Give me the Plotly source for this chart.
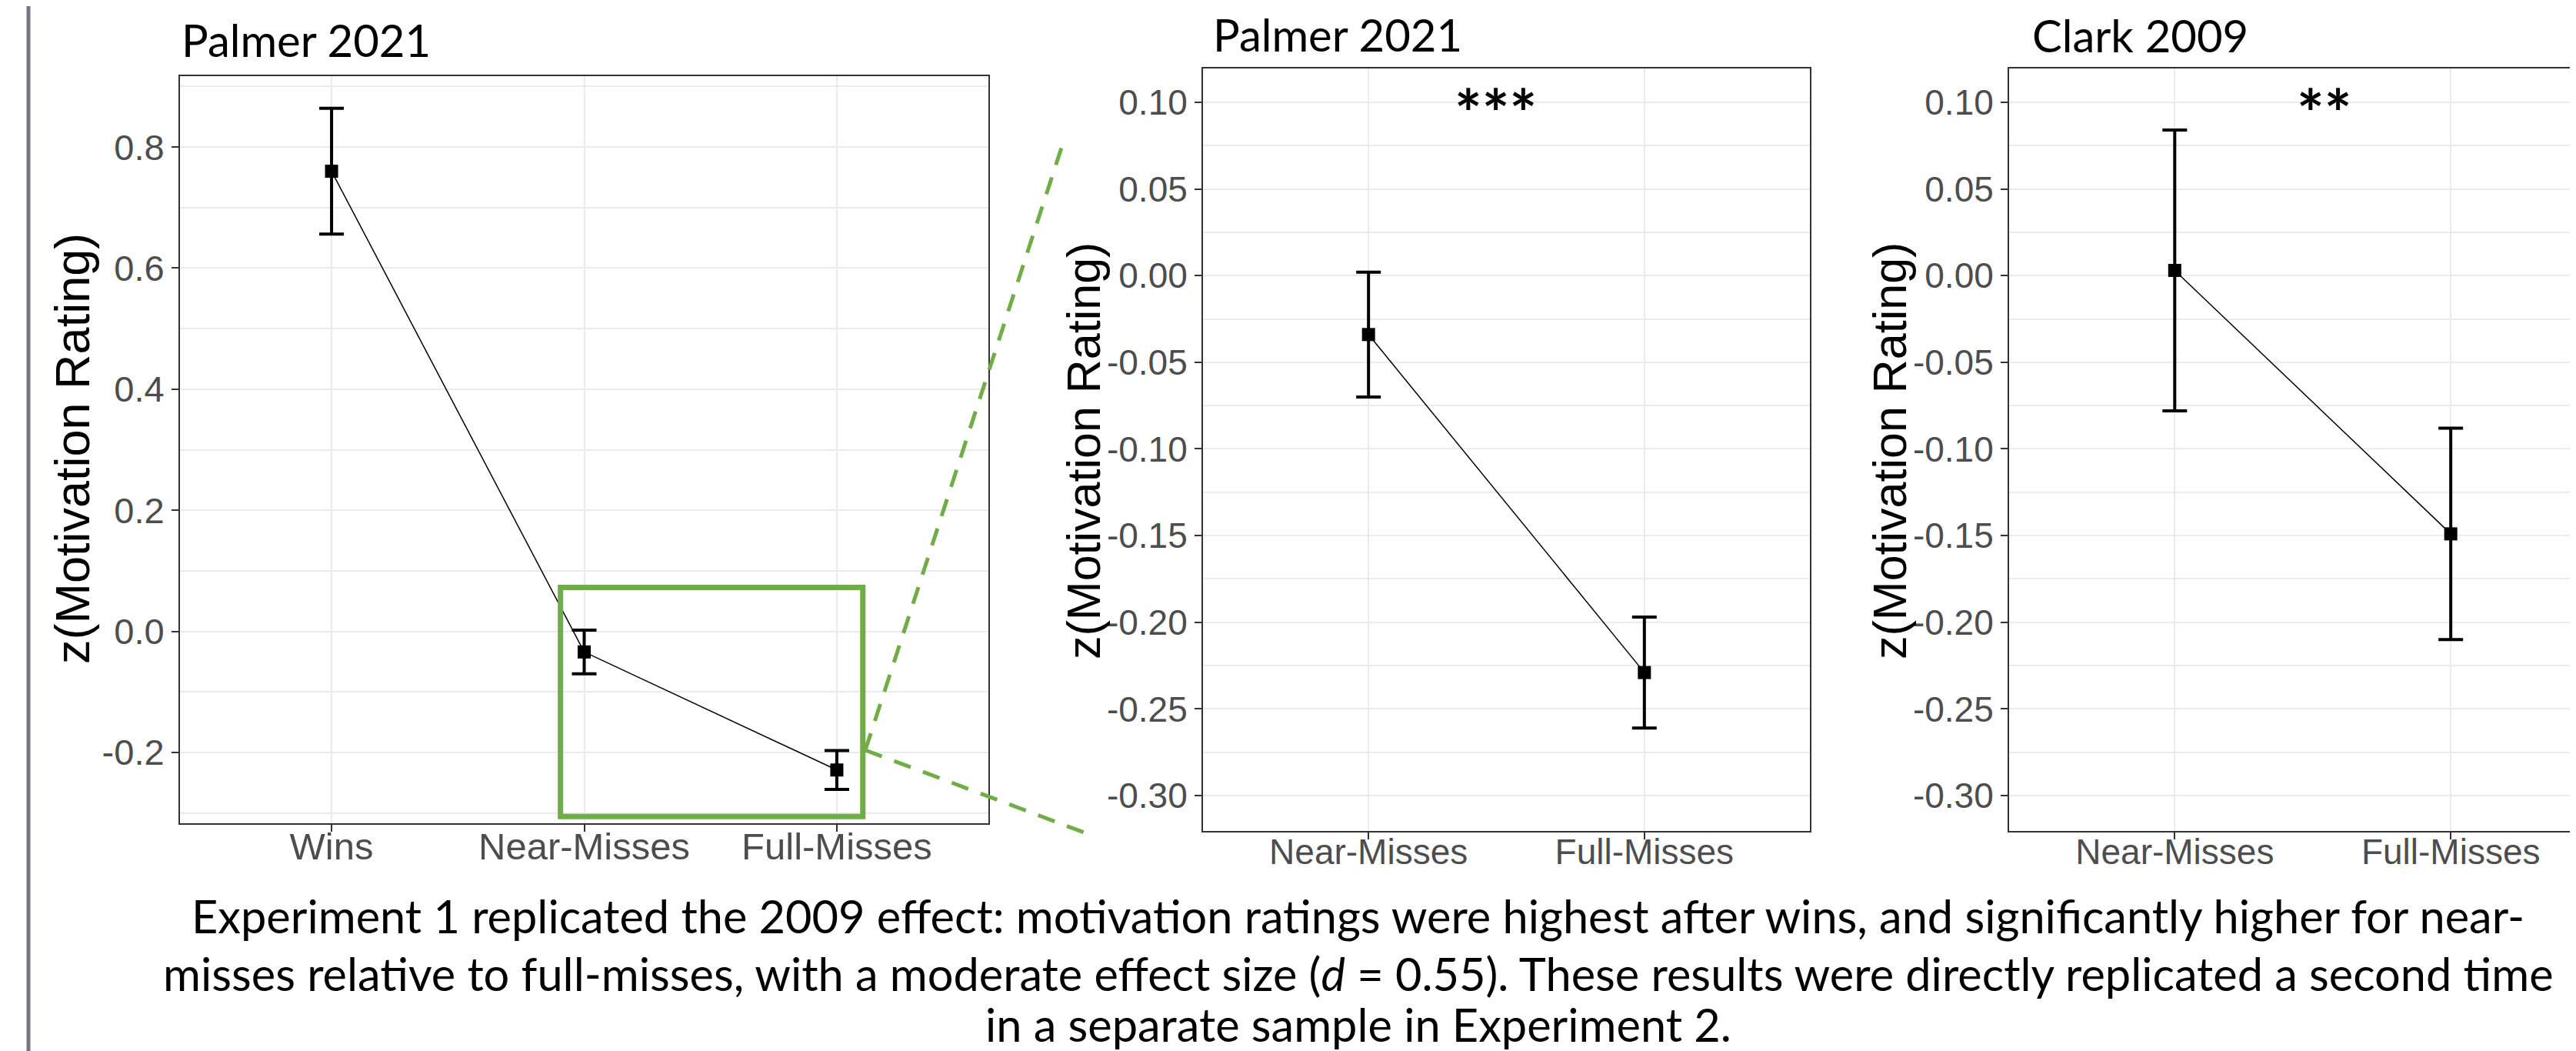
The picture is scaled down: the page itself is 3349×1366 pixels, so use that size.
import plotly.graph_objects as go

# ---------------- data ----------------
cats_p1 = ["Wins", "Near-Misses", "Full-Misses"]
means_p1 = [0.760, -0.034, -0.229]
se_p1 = [0.104, 0.036, 0.032]

cats_p2 = ["Near-Misses", "Full-Misses"]
means_p2 = [-0.034, -0.229]
se_p2 = [0.036, 0.032]

cats_p3 = ["Near-Misses", "Full-Misses"]
means_p3 = [0.003, -0.149]
se_p3 = [0.081, 0.061]

panel_titles = ["Palmer 2021", "Palmer 2021", "Clark 2009"]
sig_labels = ["***", "**"]
y_title = "z(Motivation Rating)"

p1_tickvals = [-0.2, 0.0, 0.2, 0.4, 0.6, 0.8]
p1_ticktext = ["-0.2", "0.0", "0.2", "0.4", "0.6", "0.8"]
p1_minor = [-0.3, -0.1, 0.1, 0.3, 0.5, 0.7, 0.9]

p23_tickvals = [-0.30, -0.25, -0.20, -0.15, -0.10, -0.05, 0.00, 0.05, 0.10]
p23_ticktext = ["-0.30", "-0.25", "-0.20", "-0.15", "-0.10", "-0.05", "0.00", "0.05", "0.10"]
p23_minor = [-0.275, -0.225, -0.175, -0.125, -0.075, -0.025, 0.025, 0.075]

caption_lines = [
    "Experiment 1 replicated the 2009 effect: motivation ratings were highest after wins, and significantly higher for near-",
    "misses relative to full-misses, with a moderate effect size (<i>d</i> = 0.55). These results were directly replicated a second time",
    "in a separate sample in Experiment 2.",
]

# ---------------- geometry ----------------
W, H = 3349, 1366


def px(x):
    return x / W


def py(y):
    return 1 - y / H


GREEN = "#70AD47"
TICKCOL = "#4D4D4D"
BORDER = "#333333"
GRID = "#EBEBEB"
TEXT_FONT = "Lato"
AXIS_FONT = "Liberation Sans, Arial, sans-serif"

fig = go.Figure()


def add_panel(cats, means, se, xa, ya):
    fig.add_trace(go.Scatter(
        x=cats, y=means, mode="lines+markers",
        xaxis=xa, yaxis=ya,
        line=dict(color="black", width=1.5),
        marker=dict(symbol="square", size=17, color="black"),
        error_y=dict(type="data", array=se, visible=True,
                     color="black", thickness=4, width=16),
        showlegend=False, hoverinfo="skip",
    ))


add_panel(cats_p1, means_p1, se_p1, "x", "y")
add_panel(cats_p2, means_p2, se_p2, "x2", "y2")
add_panel(cats_p3, means_p3, se_p3, "x3", "y3")


def xaxis_cfg(domain, rng, cats, size, mirror=True):
    return dict(
        domain=domain, type="category", categoryorder="array", categoryarray=cats,
        range=rng, showgrid=True, gridcolor=GRID, gridwidth=2,
        showline=True, linecolor=BORDER, linewidth=2, mirror=mirror,
        ticks="outside", ticklen=9, tickwidth=2, tickcolor=BORDER,
        ticklabelstandoff=-23,
        tickfont=dict(family=AXIS_FONT, size=size, color=TICKCOL),
        zeroline=False, fixedrange=True,
    )


def yaxis_cfg(domain, rng, tv, tt, minor, size, anchor, mirror=True):
    return dict(
        domain=domain, range=rng, anchor=anchor,
        tickmode="array", tickvals=tv, ticktext=tt,
        showgrid=True, gridcolor=GRID, gridwidth=2,
        minor=dict(tickmode="array", tickvals=minor, showgrid=True,
                   gridcolor=GRID, gridwidth=1.5, ticks=""),
        showline=True, linecolor=BORDER, linewidth=2, mirror=mirror,
        ticks="outside", ticklen=9, tickwidth=2, tickcolor=BORDER,
        tickfont=dict(family=AXIS_FONT, size=size, color=TICKCOL),
        zeroline=False, fixedrange=True,
    )


fig.update_layout(
    width=W, height=H,
    margin=dict(l=0, r=0, t=0, b=0),
    paper_bgcolor="white", plot_bgcolor="white",
    xaxis=xaxis_cfg([px(226), px(1277)], [-0.6, 2.6], cats_p1, 49) | dict(anchor="y"),
    yaxis=yaxis_cfg([py(1062), py(91)], [-0.317, 0.917], p1_tickvals, p1_ticktext, p1_minor, 47, "x"),
    xaxis2=xaxis_cfg([px(1556), px(2345)], [-0.6, 1.6], cats_p2, 46) | dict(anchor="y2"),
    yaxis2=yaxis_cfg([py(1072), py(81)], [-0.3204, 0.1195], p23_tickvals, p23_ticktext, p23_minor, 46, "x2"),
    xaxis3=xaxis_cfg([px(2604), 1.0], [-0.6, 1.476], cats_p3, 46) | dict(anchor="y3"),
    yaxis3=yaxis_cfg([py(1072), py(81)], [-0.3204, 0.1195], p23_tickvals, p23_ticktext, p23_minor, 46, "x3", mirror=False),
)

shapes = []
# slide border on the left
shapes.append(dict(type="line", xref="paper", yref="paper",
                   x0=px(29), x1=px(29), y0=0, y1=1,
                   line=dict(color="#737785", width=5)))
# green zoom rectangle on panel 1 (data coordinates)
shapes.append(dict(type="rect", xref="x", yref="y",
                   x0=0.906, x1=2.103, y0=-0.306, y1=0.0724,
                   line=dict(color=GREEN, width=7)))
# dashed connector lines
for (x1, y1) in [(1372, 184), (1412, 1078)]:
    shapes.append(dict(type="line", xref="paper", yref="paper",
                       x0=px(1117), y0=py(967), x1=px(x1), y1=py(y1),
                       line=dict(color=GREEN, width=5, dash="23px,17px")))
fig.update_layout(shapes=shapes)

ann = []
# panel titles
for text, x, mid in zip(panel_titles, [226, 1567, 2632], [44, 36, 37]):
    ann.append(dict(text=text, xref="paper", yref="paper",
                    x=px(x), y=py(mid), xanchor="left", yanchor="middle",
                    showarrow=False, font=dict(family=TEXT_FONT, size=58, color="black")))
# y-axis titles
for x, y, s in [(86, 575, 63), (1401, 578, 61), (2449, 578, 61)]:
    ann.append(dict(text=y_title, xref="paper", yref="paper",
                    x=px(x), y=py(y), xanchor="center", yanchor="middle",
                    textangle=-90, showarrow=False,
                    font=dict(family=AXIS_FONT, size=s, color="black")))
# significance stars
for text, xr, yr, xv in zip(sig_labels, ["x2", "x3"], ["y2", "y3"], [0.46, 0.54]):
    ann.append(dict(text=text, xref=xr, yref=yr, x=xv, y=0.0945,
                    xanchor="center", yanchor="middle", showarrow=False,
                    font=dict(family=TEXT_FONT, size=84, color="black", weight="bold")))
# caption
for line, mid in zip(caption_lines, [1182, 1257, 1323]):
    ann.append(dict(text=line, xref="paper", yref="paper",
                    x=px(1758), y=py(mid), xanchor="center", yanchor="middle",
                    showarrow=False, font=dict(family=TEXT_FONT, size=59.5, color="black")))
fig.update_layout(annotations=ann)

fig.write_html("out.html")
